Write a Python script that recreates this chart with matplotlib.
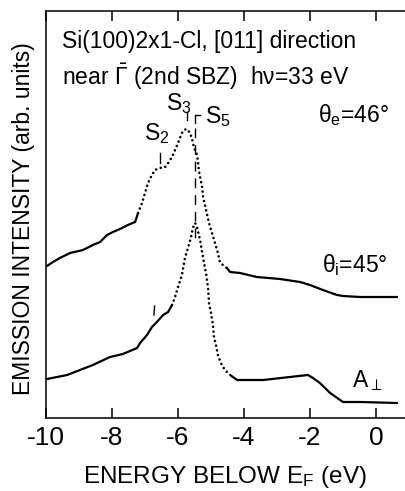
import matplotlib
matplotlib.use("Agg")
import matplotlib.pyplot as plt

plt.rcParams['font.family'] = ['Liberation Sans', 'DejaVu Sans']
plt.rcParams['mathtext.fontset'] = 'custom'
plt.rcParams['mathtext.rm'] = 'Liberation Sans'
plt.rcParams['mathtext.it'] = 'Liberation Sans'
plt.rcParams['mathtext.bf'] = 'Liberation Sans:bold'
plt.rcParams['axes.unicode_minus'] = False

# ---- spectra (energy below E_F in eV, intensity in arb. units) ----
# theta_e = 46 deg spectrum: flat low-energy part, sparse peak region, flat tail
up_solid_l_e = [-9.97, -9.79, -9.58, -9.27, -8.88, -8.58, -8.36, -8.15, -7.97, -7.76, -7.52, -7.30, -7.21]
up_solid_l_i = [152, 156, 160, 165, 168, 173, 176, 183, 186, 189, 193, 196, 205]
up_peak_e = [-7.21, -7.09, -7.00, -6.91, -6.79, -6.70, -6.55, -6.39, -6.30, -6.18, -6.09, -6.00,
             -5.88, -5.82, -5.73, -5.64, -5.58, -5.52, -5.42, -5.36, -5.27, -5.24, -5.15, -5.06,
             -4.97, -4.88, -4.79, -4.73, -4.64, -4.52]
up_peak_i = [205, 215, 225, 235, 243, 248, 250, 251, 255, 261, 268, 275,
             285, 288, 289, 285, 280, 271, 263, 246, 231, 221, 208, 195,
             185, 175, 165, 156, 153, 150]
up_solid_r_e = [-4.52, -4.42, -4.12, -3.61, -2.91, -2.30, -2.00, -1.61, -1.18, -1.00, -0.48, 0.64]
up_solid_r_i = [150, 146, 145, 141, 139, 136, 133, 128, 123, 122, 121, 121]

# theta_i = 45 deg spectrum (A_perp)
lo_solid_l_e = [-9.97, -9.36, -8.97, -8.58, -8.06, -7.67, -7.24, -7.15, -6.94, -6.79, -6.64, -6.45, -6.30, -6.18]
lo_solid_l_i = [39, 43, 48, 53, 61, 64, 70, 75, 83, 91, 96, 103, 106, 113]
lo_peak_e = [-6.18, -6.09, -6.00, -5.88, -5.79, -5.70, -5.61, -5.55, -5.48, -5.42, -5.33, -5.27,
             -5.21, -5.15, -5.09, -5.06, -5.00, -4.94, -4.91, -4.85, -4.79, -4.70, -4.58, -4.42]
lo_peak_i = [113, 121, 131, 143, 160, 170, 180, 190, 195, 190, 178, 166,
             155, 145, 130, 115, 105, 93, 81, 73, 63, 55, 48, 43]
lo_solid_r_e = [-4.42, -4.21, -4.12, -3.42, -2.61, -2.06, -1.91, -1.70, -1.39, -1.00, -0.48, 0.64]
lo_solid_r_i = [43, 38, 38, 38, 41, 43, 40, 35, 25, 16, 16, 15]

# feature energies
s2_energy = -6.55
s3_energy = -5.73
s5_energy = -5.47
lower_s2_energy = -6.73

xticks = [-10, -8, -6, -4, -2, 0]
xticklabels = ['-10', '-8', '-6', '-4', '-2', '0']

W, H = 406, 491
fig = plt.figure(figsize=(W / 100, H / 100), dpi=100)
ax = fig.add_axes([46 / W, 1 - 418 / H, 1 - 46 / W, (418 - 11) / H])
ax.set_xlim(-10, 0.909)
ax.set_ylim(0, 407)

solid_kw = dict(color='black', lw=1.6, solid_capstyle='round', solid_joinstyle='round')
dot_kw = dict(color='black', lw=1.9, linestyle=(0, (0.01, 1.8)), dash_capstyle='round')

for e, i in [(up_solid_l_e, up_solid_l_i), (up_solid_r_e, up_solid_r_i),
             (lo_solid_l_e, lo_solid_l_i), (lo_solid_r_e, lo_solid_r_i)]:
    ax.plot(e, i, **solid_kw)
for e, i in [(up_peak_e, up_peak_i), (lo_peak_e, lo_peak_i)]:
    ax.plot(e, i, **dot_kw)

# feature markers
mk = dict(color='black', lw=1.0)
ax.plot([s3_energy, s3_energy], [298, 306], **mk)
ax.plot([s2_energy, s2_energy], [255, 265], **mk)
ax.plot([lower_s2_energy, lower_s2_energy + 0.02], [103, 112], **mk)
ax.plot([s5_energy + 0.14, s5_energy, s5_energy], [303, 303, 295], **mk)
ax.plot([s5_energy, s5_energy], [290, 178], color='black', lw=1.0, linestyle=(0, (7, 5)))

# axes styling
ax.spines['right'].set_visible(False)
for side in ['left', 'top', 'bottom']:
    ax.spines[side].set_linewidth(1.1)
ax.set_yticks([])
ax.set_xticks(xticks)
ax.set_xticklabels(xticklabels)
ax.tick_params(axis='x', direction='in', top=True, bottom=True, length=7, width=1.1,
               labelsize=19, pad=6)

def ftext(x, y, s, **kw):
    fig.text(x / W, 1 - y / H, s, va='baseline', **kw)

fs = 16.5
ftext(62, 48, 'Si(100)2x1-Cl, [011] direction', fontsize=fs)
ftext(62, 85, r'near $\bar{\Gamma}$ (2nd SBZ)  h$\nu$=33 eV', fontsize=fs)
ftext(166, 110, r'S$_3$', fontsize=fs)
ftext(205, 123, r'S$_5$', fontsize=fs)
ftext(144, 140, r'S$_2$', fontsize=fs)
ftext(318, 122, r'$\theta_\mathrm{e}$=46°', fontsize=fs)
ftext(322, 272, r'$\theta_\mathrm{i}$=45°', fontsize=fs)
ftext(352, 387, r'A$_\perp$', fontsize=fs)

ftext(83, 483, r'ENERGY BELOW E$_\mathrm{F}$ (eV)', fontsize=17.5)
fig.text(24 / W, 1 - 219 / H, 'EMISSION INTENSITY (arb. units)', rotation=90,
         ha='center', va='center', fontsize=16.5)

fig.savefig('out.png', dpi=100)
